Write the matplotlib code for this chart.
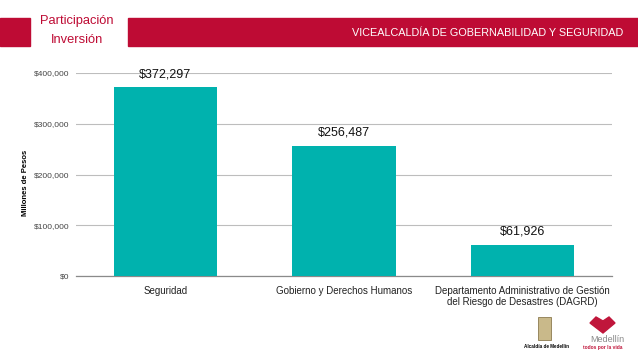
import matplotlib
matplotlib.use("Agg")
import matplotlib.pyplot as plt
from matplotlib.patches import Rectangle, Polygon
from matplotlib.ticker import FuncFormatter

categories = ["Seguridad", "Gobierno y Derechos Humanos",
              "Departamento Administrativo de Gestión\ndel Riesgo de Desastres (DAGRD)"]
values = [372297, 256487, 61926]
value_labels = ["$372,297", "$256,487", "$61,926"]
y_ticks = [0, 100000, 200000, 300000, 400000]

RED = "#BE0B34"
TEAL = "#00B2AE"
FONT = ["Liberation Sans", "DejaVu Sans"]

W, H = 638, 359
fig = plt.figure(figsize=(W / 100, H / 100), dpi=100)

def fx(px):
    return px / W

def fy(py):
    return 1 - py / H

# Header bars
fig.patches.append(Rectangle((fx(0), fy(46)), fx(30), 28 / H, transform=fig.transFigure,
                             color=RED, zorder=0))
fig.patches.append(Rectangle((fx(128), fy(46)), fx(510), 28 / H, transform=fig.transFigure,
                             color=RED, zorder=0))
fig.text(fx(77), fy(21), "Participación", color=RED, fontsize=9.3, ha="center", va="center",
         family=FONT)
fig.text(fx(77), fy(40), "Inversión", color=RED, fontsize=9.3, ha="center", va="center",
         family=FONT)
fig.text(fx(623), fy(33), "VICEALCALDÍA DE GOBERNABILIDAD Y SEGURIDAD", color="white",
         fontsize=7.8, ha="right", va="center", family=FONT)

# Axes
ax = fig.add_axes([fx(76), fy(276), fx(612 - 76), (276 - 73) / H])
x = list(range(len(categories)))
ax.bar(x, values, width=0.58, color=TEAL, zorder=3)
ax.set_xlim(-0.5, 2.5)
ax.set_ylim(0, 400000)
ax.set_yticks(y_ticks)
ax.yaxis.set_major_formatter(FuncFormatter(lambda v, p: f"${v:,.0f}"))
ax.grid(axis="y", color="#BDBDBD", linewidth=0.8, zorder=0)
for s in ["top", "right", "left"]:
    ax.spines[s].set_visible(False)
ax.spines["bottom"].set_color("#8A8A8A")
ax.spines["bottom"].set_linewidth(0.9)
ax.tick_params(axis="both", length=0)
ax.tick_params(axis="y", labelsize=6, pad=5, labelcolor="#444444")
ax.set_xticks(x)
ax.set_xticklabels(categories, fontsize=7, family=FONT, color="#222222")
ax.tick_params(axis="x", pad=7)
for lab in ax.get_yticklabels():
    lab.set_family(FONT)
ax.set_ylabel("Millones de Pesos", fontsize=5.5, fontweight="bold", family=FONT)
ax.yaxis.set_label_coords((29 - 76) / 536, (276 - 183) / 203)

for xi, v, lab in zip(x, values, value_labels):
    ax.annotate(lab, (xi, v), xytext=(0, 5), textcoords="offset points",
                ha="center", va="bottom", fontsize=9, family=FONT, color="#111111")

# Logos (approximate)
fig.patches.append(Rectangle((fx(538), fy(340)), fx(13), 23 / H, transform=fig.transFigure,
                             facecolor="#C9B98A", edgecolor="#8C7B4F", linewidth=0.6))
fig.text(fx(546), fy(346), "Alcaldía de Medellín", fontsize=3.3, fontweight="bold",
         ha="center", va="center", family=FONT)
fig.patches.append(Polygon([(fx(590), fy(323)), (fx(596), fy(317)), (fx(603), fy(321)),
                            (fx(609), fy(317)), (fx(615), fy(323)), (fx(603), fy(333))],
                           closed=True, transform=fig.transFigure, color="#C0163B"))
fig.text(fx(607), fy(339), "Medellín", fontsize=6.5, color="#8A8A8A", ha="center", va="center",
         family=FONT)
fig.text(fx(603), fy(347), "todos por la vida", fontsize=3.5, color="#C0163B",
         fontweight="bold", ha="center", va="center", family=FONT)

fig.savefig("out.png", dpi=100)
